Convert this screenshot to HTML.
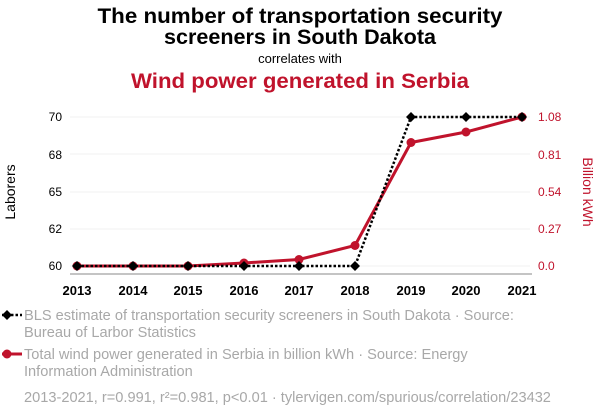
<!DOCTYPE html>
<html><head><meta charset="utf-8"><style>
body{margin:0;background:#fff;width:600px;height:414px;overflow:hidden;font-family:"Liberation Sans",Arial,sans-serif}
</style></head><body>
<svg width="600" height="414" xmlns="http://www.w3.org/2000/svg" font-family="Liberation Sans, Arial, sans-serif">
<text x="300" y="23" text-anchor="middle" font-size="21" font-weight="bold" fill="#000" textLength="405" lengthAdjust="spacingAndGlyphs">The number of transportation security</text>
<text x="300" y="44" text-anchor="middle" font-size="21" font-weight="bold" fill="#000" textLength="272" lengthAdjust="spacingAndGlyphs">screeners in South Dakota</text>
<text x="300" y="63" text-anchor="middle" font-size="13" fill="#000">correlates with</text>
<text x="300" y="88" text-anchor="middle" font-size="21" font-weight="bold" fill="#c0132c" textLength="338" lengthAdjust="spacingAndGlyphs">Wind power generated in Serbia</text>
<g stroke="#f0f0f0" stroke-width="1">
<line x1="70" x2="530" y1="117" y2="117"/><line x1="70" x2="530" y1="154" y2="154"/><line x1="70" x2="530" y1="192" y2="192"/><line x1="70" x2="530" y1="229" y2="229"/><line x1="70" x2="530" y1="266" y2="266"/>
</g>
<line x1="70" x2="532" y1="274" y2="274" stroke="#888" stroke-width="1"/>
<g font-size="12" fill="#000" text-anchor="end">
<text x="62" y="121">70</text><text x="62" y="159">68</text><text x="62" y="196">65</text><text x="62" y="233">62</text><text x="62" y="270">60</text>
</g>
<g font-size="12" fill="#c0132c">
<text x="538" y="121">1.08</text><text x="538" y="159">0.81</text><text x="538" y="196">0.54</text><text x="538" y="233">0.27</text><text x="538" y="270">0.0</text>
</g>
<text transform="translate(15,192) rotate(-90)" text-anchor="middle" font-size="14" fill="#000">Laborers</text>
<text transform="translate(583,192) rotate(90)" text-anchor="middle" font-size="14" fill="#c0132c">Billion kWh</text>
<g font-size="13" font-weight="bold" fill="#000" text-anchor="middle">
<text x="77" y="295">2013</text><text x="133" y="295">2014</text><text x="188" y="295">2015</text><text x="244" y="295">2016</text><text x="299" y="295">2017</text><text x="355" y="295">2018</text><text x="411" y="295">2019</text><text x="466" y="295">2020</text><text x="522" y="295">2021</text>
</g>
<polyline fill="none" stroke="#c0132c" stroke-width="3" points="77,266 133,266 188,266 244,263 299,259.5 355,245.5 411,142.5 466,132 522,117"/>
<g fill="#c0132c"><circle cx="244" cy="263" r="4.5"/><circle cx="299" cy="259.5" r="4.5"/><circle cx="355" cy="245.5" r="4.5"/><circle cx="411" cy="142.5" r="4.5"/><circle cx="466" cy="132" r="4.5"/><circle cx="522" cy="117" r="4.5"/><circle cx="77" cy="266" r="4.5"/><circle cx="133" cy="266" r="4.5"/><circle cx="188" cy="266" r="4.5"/></g>
<polyline fill="none" stroke="#000" stroke-width="2.5" stroke-dasharray="2.5,2" points="77,266 133,266 188,266 244,266 299,266 355,266 411,117 466,117 522,117"/>
<g fill="#000">
<path d="M77,261l5,5l-5,5l-5,-5z"/><path d="M133,261l5,5l-5,5l-5,-5z"/><path d="M188,261l5,5l-5,5l-5,-5z"/><path d="M244,261l5,5l-5,5l-5,-5z"/><path d="M299,261l5,5l-5,5l-5,-5z"/><path d="M355,261l5,5l-5,5l-5,-5z"/><path d="M411,112l5,5l-5,5l-5,-5z"/><path d="M466,112l5,5l-5,5l-5,-5z"/><path d="M522,112l5,5l-5,5l-5,-5z"/>
</g>
<line x1="2" x2="22" y1="315" y2="315" stroke="#000" stroke-width="2.5" stroke-dasharray="2.5,2"/>
<path d="M7,310l5,5l-5,5l-5,-5z" fill="#000"/>
<g font-size="14.6" fill="#a8a8a8">
<text x="24" y="320">BLS estimate of transportation security screeners in South Dakota · Source:</text>
<text x="24" y="337">Bureau of Larbor Statistics</text>
<text x="24" y="359">Total wind power generated in Serbia in billion kWh · Source: Energy</text>
<text x="24" y="376">Information Administration</text>
<text x="24" y="402">2013-2021, r=0.991, r²=0.981, p&lt;0.01 · tylervigen.com/spurious/correlation/23432</text>
</g>
<line x1="2" x2="22" y1="354" y2="354" stroke="#c0132c" stroke-width="3"/>
<circle cx="7" cy="354" r="4.5" fill="#c0132c"/>
</svg>
</body></html>
